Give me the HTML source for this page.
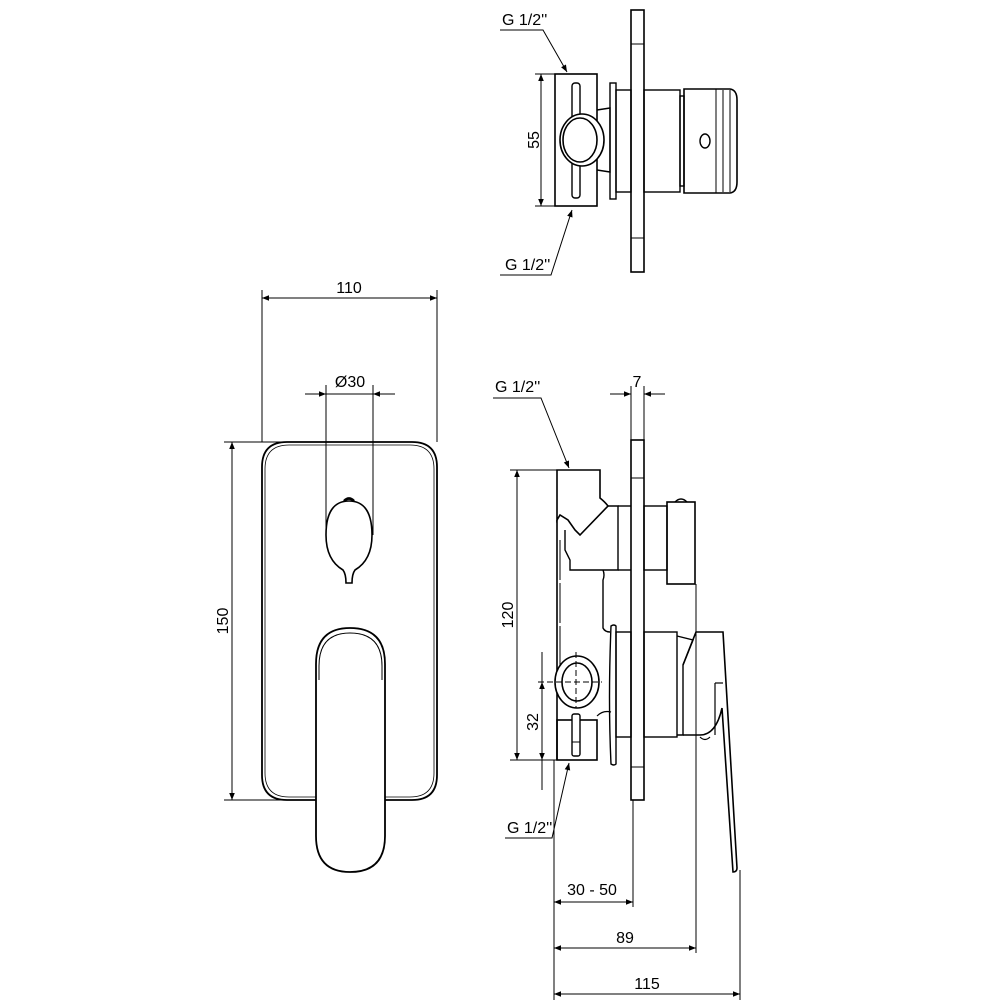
<!DOCTYPE html>
<html><head><style>body{margin:0;background:#fff}svg{display:block}text{font-family:"Liberation Sans Narrow","Liberation Sans",sans-serif;font-size:16px;fill:#000}</style></head>
<body>
<svg width="1000" height="1000" viewBox="0 0 1000 1000" xmlns="http://www.w3.org/2000/svg">
<defs>
<marker id="a" viewBox="0 0 10 10" refX="10" refY="5" markerWidth="16" markerHeight="7" markerUnits="userSpaceOnUse" orient="auto-start-reverse"><path d="M0,1 L10,5 L0,9z" fill="#000"/></marker>
</defs>
<g fill="none" stroke="#000" stroke-width="1">
<!-- ===== TOP VIEW ===== -->
<rect x="631" y="10" width="13" height="262" stroke-width="1.6"/>
<line x1="631" y1="44" x2="644" y2="44"/><line x1="631" y1="238" x2="644" y2="238"/>
<rect x="555" y="74" width="42" height="132" stroke-width="1.6"/>
<rect x="572" y="83" width="8" height="115" rx="3" stroke-width="1.4"/>
<path d="M560,140 a22,26 0 1 1 44,0 a22,26 0 1 1 -44,0" fill="#fff" stroke-width="1.6"/>
<ellipse cx="580" cy="140" rx="17" ry="22" stroke-width="1.6"/>
<path d="M597,110 L610,108 L610,172 L597,170" stroke-width="1.4"/>
<rect x="610" y="83" width="6" height="116" stroke-width="1.4"/>
<rect x="616" y="90" width="15" height="102" stroke-width="1.4"/>
<rect x="644" y="90" width="36" height="102" stroke-width="1.4"/>
<rect x="680" y="96" width="4" height="90" stroke-width="1.4"/>
<path d="M684,89 L730,89 Q737,90 737,100 L737,182 Q737,192 730,193 L684,193 Z" stroke-width="1.6"/>
<line x1="716" y1="89" x2="716" y2="193"/><line x1="723" y1="90" x2="723" y2="192"/><line x1="730" y1="90" x2="730" y2="192"/>
<ellipse cx="705" cy="141" rx="5" ry="7" stroke-width="1.4"/>
<line x1="541" y1="74" x2="541" y2="206" marker-start="url(#a)" marker-end="url(#a)"/>
<line x1="535" y1="74" x2="555" y2="74"/><line x1="535" y1="206" x2="555" y2="206"/>
<polyline points="500,30 543,30 567,72" marker-end="url(#a)"/>
<polyline points="500,275 551,275 572,210" marker-end="url(#a)"/>

<!-- ===== FRONT VIEW ===== -->
<line x1="262" y1="298" x2="437" y2="298" marker-start="url(#a)" marker-end="url(#a)"/>
<line x1="262" y1="290" x2="262" y2="442"/><line x1="437" y1="290" x2="437" y2="442"/>
<line x1="232" y1="442" x2="232" y2="800" marker-start="url(#a)" marker-end="url(#a)"/>
<line x1="224" y1="442" x2="290" y2="442"/><line x1="224" y1="800" x2="290" y2="800"/>
<line x1="305" y1="394" x2="326" y2="394" marker-end="url(#a)"/>
<line x1="395" y1="394" x2="373" y2="394" marker-end="url(#a)"/>
<line x1="326" y1="394" x2="373" y2="394"/>
<line x1="326" y1="385" x2="326" y2="535"/><line x1="373" y1="385" x2="373" y2="535"/>
<path d="M316,800 L287,800 Q262,800 262,775 L262,467 Q262,442 287,442 L412,442 Q437,442 437,467 L437,775 Q437,800 412,800 L384,800" stroke-width="1.8"/>
<path d="M316,797 L289,797 Q265,797 265,773 L265,469 Q265,445 289,445 L410,445 Q434,445 434,469 L434,773 Q434,797 410,797 L384,797" stroke-width="0.8"/>
<path d="M343,570 Q326,560 326,535 Q326,501 349,501 Q372,501 372,535 Q372,560 355,570 Q352,574 352,583 L346,583 Q346,574 343,570 Z" stroke-width="1.6"/>
<path d="M344,501 Q349,496 354,501" stroke-width="2.5"/>
<path d="M316,836 L316,664 Q316,628 350,628 Q385,628 385,664 L385,836 Q385,872 350,872 Q316,872 316,836 Z" fill="#fff" stroke-width="1.8"/>
<path d="M319,680 L319,666 Q319,633 350,633 Q382,633 382,666 L382,680" stroke-width="1"/>

<!-- ===== SIDE VIEW ===== -->
<rect x="631" y="440" width="13" height="360" stroke-width="1.6"/>
<line x1="631" y1="478" x2="644" y2="478"/><line x1="631" y1="767" x2="644" y2="767"/>
<line x1="631" y1="386" x2="631" y2="440"/><line x1="644" y1="386" x2="644" y2="440"/>
<line x1="610" y1="394" x2="631" y2="394" marker-end="url(#a)"/>
<line x1="665" y1="394" x2="644" y2="394" marker-end="url(#a)"/>
<path d="M557,470 L600,470 L600,498 Q605,502 608,506 L580,535 L575,530 L568,520 L560,515 L557,520 Z" stroke-width="1.6"/>
<path d="M557,520 L557,760" stroke-width="1.6"/>
<path d="M608,506 L618,506 L618,570 L570,570 L570,560 L565,550 L565,530"  stroke-width="1.4"/>
<path d="M560,540 L560,690" stroke-width="1" stroke-dasharray="40 3"/>
<path d="M603,570 Q605,575 603,580 L603,628 Q605,632 610,632" stroke-width="1.4"/>
<line x1="618" y1="506" x2="631" y2="506" stroke-width="1.4"/>
<line x1="618" y1="570" x2="631" y2="570" stroke-width="1.4"/>
<rect x="644" y="506" width="23" height="64" stroke-width="1.4"/>
<rect x="667" y="502" width="28" height="82" stroke-width="1.6"/>
<path d="M675,502 Q681,496 687,502" stroke-width="1.4"/>
<path d="M611,626 Q614,624 616,626 L616,764 Q614,766 611,764 Q608,700 611,626 Z" stroke-width="1.4"/>
<rect x="616" y="632" width="15" height="105" stroke-width="1.4"/>
<rect x="644" y="632" width="33" height="105" stroke-width="1.4"/>
<path d="M677,636 L693,640 L683,665 L683,735 L677,735" stroke-width="1.4"/>
<path d="M683,665 L696,632 L723,632 L737,868 Q737,872 733,872 L722,708 Q716,735 700,735 L683,735" stroke-width="1.6"/>
<line x1="715" y1="683" x2="723" y2="683" stroke-width="1.2"/>
<line x1="715" y1="683" x2="715" y2="735" stroke-width="1.2"/>
<path d="M700,737 Q705,742 710,737" stroke-width="1.2"/>
<rect x="557" y="720" width="40" height="40" stroke-width="1.6"/>
<ellipse cx="577" cy="682" rx="22" ry="26" fill="#fff" stroke-width="1.6"/>
<ellipse cx="577" cy="682" rx="15" ry="19" stroke-width="1.6"/>
<line x1="538" y1="682" x2="602" y2="682" stroke-dasharray="6 3"/>
<line x1="576" y1="652" x2="576" y2="708" stroke-dasharray="6 3"/>
<rect x="572" y="714" width="8" height="42" rx="2" fill="#fff" stroke-width="1.4"/>
<line x1="572" y1="742" x2="580" y2="742"/>
<path d="M597,716 Q603,710 611,712" stroke-width="1.2"/>
<line x1="510" y1="470" x2="557" y2="470"/>
<line x1="510" y1="760" x2="557" y2="760"/>
<line x1="517" y1="470" x2="517" y2="760" marker-start="url(#a)" marker-end="url(#a)"/>
<line x1="542" y1="652" x2="542" y2="790"/>
<line x1="542" y1="710" x2="542" y2="682" marker-end="url(#a)"/>
<line x1="542" y1="740" x2="542" y2="760" marker-end="url(#a)"/>
<polyline points="493,398 541,398 569,468" marker-end="url(#a)"/>
<polyline points="505,838 552,838 569,763" marker-end="url(#a)"/>
<line x1="554" y1="760" x2="554" y2="1000"/>
<line x1="633" y1="800" x2="633" y2="907"/>
<line x1="696" y1="584" x2="696" y2="953"/>
<line x1="740" y1="870" x2="740" y2="1000"/>
<line x1="554" y1="902" x2="633" y2="902" marker-start="url(#a)" marker-end="url(#a)"/>
<line x1="554" y1="948" x2="696" y2="948" marker-start="url(#a)" marker-end="url(#a)"/>
<line x1="554" y1="994" x2="740" y2="994" marker-start="url(#a)" marker-end="url(#a)"/>
</g>
<g>
<text x="502" y="25">G 1/2''</text>
<text x="505" y="270">G 1/2''</text>
<text transform="translate(539,140) rotate(-90)" text-anchor="middle">55</text>
<text x="349" y="293" text-anchor="middle">110</text>
<text x="350" y="387" text-anchor="middle">Ø30</text>
<text transform="translate(228,621) rotate(-90)" text-anchor="middle">150</text>
<text x="495" y="392">G 1/2''</text>
<text x="637" y="387" text-anchor="middle">7</text>
<text transform="translate(513,615) rotate(-90)" text-anchor="middle">120</text>
<text transform="translate(538,722) rotate(-90)" text-anchor="middle">32</text>
<text x="507" y="833">G 1/2''</text>
<text x="592" y="895" text-anchor="middle">30 - 50</text>
<text x="625" y="943" text-anchor="middle">89</text>
<text x="647" y="989" text-anchor="middle">115</text>
</g>
</svg>
</body></html>
